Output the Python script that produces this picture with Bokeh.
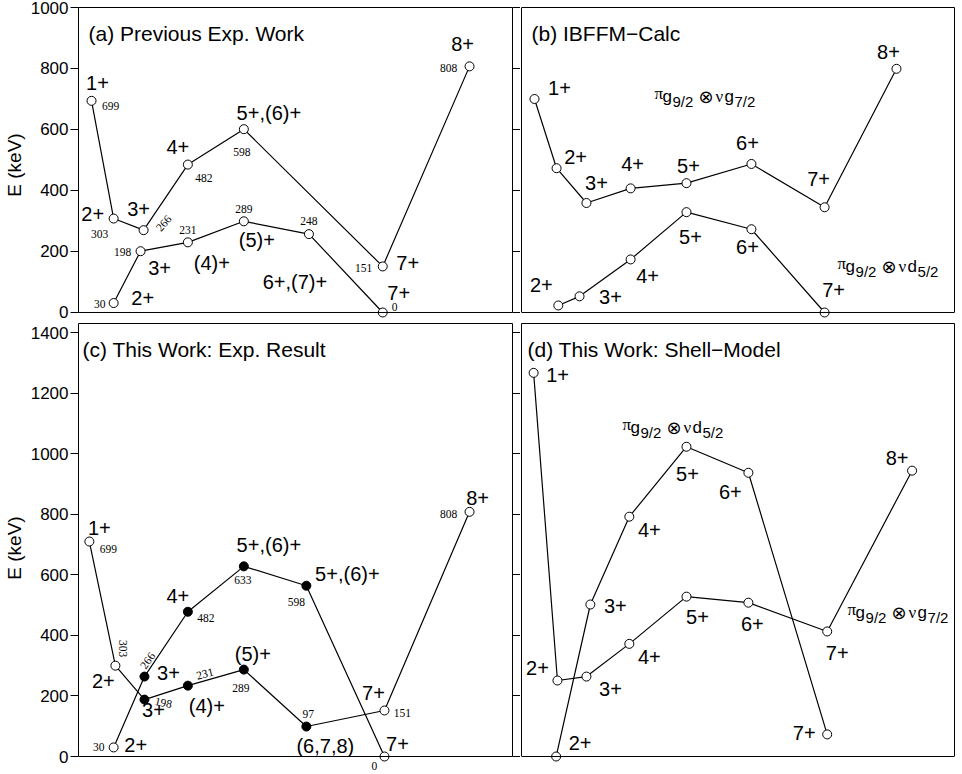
import math
from bokeh.plotting import figure
from bokeh.models import LinearAxis, Span, FixedTicker, Range1d, ColumnDataSource, Grid
from bokeh.layouts import column, row
from bokeh.embed import file_html
from bokeh.resources import INLINE
from bokeh.core.properties import value, field

# ---------------- data ----------------
# (a) Previous Exp. Work
a_up_x = [3.0, 8.1, 15.0, 25.2, 38.1, 70.1, 90.1]
a_up_E = [694, 308, 270, 485, 601, 151, 807]
a_up_spin = ["1+", "2+", "3+", "4+", "5+,(6)+", "7+", "8+"]
a_up_lab = ["699", "303", "266", "482", "598", "151", "808"]

a_lo_x = [8.1, 14.3, 25.2, 38.1, 53.1, 70.1]
a_lo_E = [31, 201, 230, 299, 257, 0]
a_lo_spin = ["2+", "3+", "(4)+", "(5)+", "6+,(7)+", "7+"]
a_lo_lab = ["30", "198", "231", "289", "248", "0"]

# (b) IBFFM-Calc
b_up_x = [3.0, 8.1, 15.0, 25.2, 38.1, 53.1, 70.0, 86.6]
b_up_E = [700, 473, 359, 407, 424, 487, 345, 799]
b_up_spin = ["1+", "2+", "3+", "4+", "5+", "6+", "7+", "8+"]

b_lo_x = [8.5, 13.4, 25.2, 38.1, 53.1, 70.0]
b_lo_E = [23, 53, 174, 329, 273, 0]
b_lo_spin = ["2+", "3+", "4+", "5+", "6+", "7+"]

# (c) This Work: Exp. Result
c_A_x = [2.5, 8.5, 15.2, 25.2, 38.1, 52.5, 70.5, 90.1]
c_A_E = [710, 300, 188, 234, 287, 99, 152, 808]
c_A_new = [False, False, True, True, True, True, False, False]
c_A_spin = ["1+", "2+", "3+", "(4)+", "(5)+", "(6,7,8)", "7+", "8+"]
c_A_lab = ["699", "303", "198", "231", "289", "97", "151", "808"]

c_B_x = [8.1, 15.2, 25.2, 38.1, 52.5, 70.5]
c_B_E = [30, 264, 478, 628, 564, 0]
c_B_new = [False, True, True, True, True, False]
c_B_spin = ["2+", "3+", "4+", "5+,(6)+", "5+,(6)+", "7+"]
c_B_lab = ["30", "266", "482", "633", "598", "0"]

# (d) This Work: Shell-Model
d_1_x = [2.8, 8.3, 15.0, 24.9, 38.1, 52.4, 70.6, 90.2]
d_1_E = [1267, 251, 264, 372, 528, 508, 413, 944]
d_1_spin = ["1+", "2+", "3+", "4+", "5+", "6+", "7+", "8+"]

d_2_x = [8.0, 15.9, 24.9, 38.1, 52.4, 70.6]
d_2_E = [0, 502, 792, 1023, 937, 73]
d_2_spin = ["2+", "3+", "4+", "5+", "6+", "7+"]

top_ticks = [0, 200, 400, 600, 800, 1000]
bot_ticks = [0, 200, 400, 600, 800, 1000, 1200, 1400]
titles = ["(a)  Previous Exp. Work", "(b)  IBFFM\u2212Calc",
          "(c) This Work: Exp. Result", "(d) This Work: Shell\u2212Model"]

# ---------------- label placement (screen px, y down) ----------------
a_up_spin_off = [(6, -18), (-21, -5), (-5, -21), (-10, -18), (25, -16), (25, -3), (-7, -22)]
a_up_lab_off = [(19, 5), (-14, 15), (20, -7), (16, 13), (-2, 23), (-19, 2), (-21, 2)]
a_up_lab_ang = [0, 0, 0.85, 0, 0, 0, 0]
a_lo_spin_off = [(29, -5), (19, 17), (24, 21), (13, 19), (-14, 48), (16, -19)]
a_lo_lab_off = [(-14, 1), (-18, 1), (0, -12), (0, -12), (0, -13), (12, -5)]

b_up_spin_off = [(25, -11), (19, -11), (10, -20), (2, -24), (2, -17), (-4, -21), (-6, -28), (-8, -17)]
b_lo_spin_off = [(-17, -20), (31, 1), (17, 17), (4, 25), (-4, 18), (9, -22)]

c_A_spin_off = [(10, -14), (-12, 15), (9, 10), (19, 20), (9, -16), (19, 19), (-11, -17), (8, -14)]
c_A_lab_off = [(19, 7), (8, -17), (19, 3), (17, -12), (-3, 18), (2, -13), (18, 3), (-21, 2)]
c_A_lab_ang = [0, -math.pi / 2, -0.2, 0.25, 0, 0, 0, 0]
c_B_spin_off = [(22, -2), (24, -4), (-10, -16), (25, -21), (41, -12), (13, -13)]
c_B_lab_off = [(-15, 0), (3, -16), (18, 6), (-1, 14), (-10, 16), (-10, 9)]
c_B_lab_ang = [0, 0.95, 0, 0, 0, 0]

d_1_spin_off = [(24, 2), (-20, -13), (24, 12), (20, 13), (11, 20), (4, 21), (10, 22), (-15, -13)]
d_2_spin_off = [(24, -14), (25, 1), (20, 13), (1, 27), (-18, 19), (-23, -1)]

SANS = "Liberation Sans"
SERIF = "Liberation Serif"
YS = 1  # sign for screen y offsets of text glyphs


def make_fig(width, height, ytop, ystart, ticks, is_left, mbt):
    p = figure(width=width, height=height, output_backend="svg", toolbar_location=None,
               x_range=Range1d(0, 100), y_range=Range1d(ystart, ytop),
               x_axis_location=None, y_axis_location=None,
               min_border_left=78 if is_left else 1, min_border_right=8 if is_left else 2,
               min_border_top=mbt, min_border_bottom=0)
    p.outline_line_color = None
    p.background_fill_color = "white"
    p.border_fill_color = "white"
    for g in p.select(type=Grid):
        g.visible = False
    p.renderers = [r for r in p.renderers if not isinstance(r, Grid)]
    p.center = [c for c in p.center if not isinstance(c, Grid)]

    def bare_axis(tk, tick_out):
        ax = LinearAxis(ticker=FixedTicker(ticks=tk), bounds=(0, ytop))
        ax.axis_line_color = "black"
        ax.axis_line_width = 1
        ax.major_tick_line_color = "black" if tk else None
        ax.major_tick_out = tick_out
        ax.major_tick_in = 0
        ax.minor_tick_line_color = None
        ax.major_label_standoff = 0
        ax.major_label_overrides = {t: "" for t in tk}
        ax.major_label_text_font_size = "0px"
        return ax

    if is_left:
        ax = LinearAxis(ticker=FixedTicker(ticks=ticks), bounds=(0, ytop), axis_label="E (keV)")
        ax.axis_line_color = "black"
        ax.major_tick_out = 8
        ax.major_tick_in = 0
        ax.minor_tick_line_color = None
        ax.major_label_standoff = 2
        ax.major_label_text_font = SANS
        ax.major_label_text_font_size = "17px"
        ax.major_label_text_color = "black"
        ax.axis_label_standoff = 3
        ax.axis_label_text_font = SANS
        ax.axis_label_text_font_size = "19px"
        ax.axis_label_text_font_style = "normal"
        ax.axis_label_text_color = "black"
        p.add_layout(ax, "left")
        p.add_layout(bare_axis(ticks, 8), "right")
    else:
        p.add_layout(bare_axis([], 0), "left")
        p.add_layout(bare_axis([], 0), "right")
    top_ax = LinearAxis(ticker=FixedTicker(ticks=[]))
    top_ax.axis_line_color = "black"
    top_ax.major_tick_line_color = None
    top_ax.minor_tick_line_color = None
    top_ax.major_label_standoff = 0
    top_ax.major_label_text_font_size = "0px"
    p.add_layout(top_ax, "above")
    p.add_layout(Span(location=0, dimension="width", line_color="black", line_width=1))
    return p


def add_title(p, text, ytop, dx):
    src = ColumnDataSource(dict(x=[0], y=[ytop], t=[text], dx=[dx], dy=[YS * 26]))
    p.text("x", "y", text="t", source=src, x_offset="dx", y_offset="dy",
           text_font=value(SANS), text_font_size=value("21px"), text_color="black",
           text_align="left", text_baseline="alphabetic")


def draw_series(p, xs, ys, spins, spin_off, labs=None, lab_off=None, lab_ang=None, filled=None):
    fills = ["black" if f else "white" for f in (filled or [False] * len(xs))]
    src = ColumnDataSource(dict(x=xs, y=ys, fill=fills))
    p.line("x", "y", source=src, line_color="black", line_width=1.2)
    p.scatter("x", "y", source=src, marker="circle", size=9, fill_color=field("fill"),
              line_color="black", line_width=1)
    s = ColumnDataSource(dict(x=xs, y=ys, t=spins, dx=[o[0] for o in spin_off],
                              dy=[YS * o[1] for o in spin_off]))
    p.text("x", "y", text="t", source=s, x_offset="dx", y_offset="dy",
           text_font=value(SANS), text_font_size=value("20px"), text_color="black",
           text_align="center", text_baseline="middle")
    if labs:
        ang = lab_ang or [0] * len(xs)
        s2 = ColumnDataSource(dict(x=xs, y=ys, t=labs, dx=[o[0] for o in lab_off],
                                   dy=[YS * o[1] for o in lab_off], a=ang))
        p.text("x", "y", text="t", source=s2, x_offset="dx", y_offset="dy", angle="a",
               text_font=value(SERIF), text_font_size=value("11.5px"), text_color="black",
               text_align="center", text_baseline="middle")


def config_label(p, x, y, orb, sub):
    pieces = [("\u03c0", SERIF, "17px", 0, -3),
              ("g", SANS, "17px", 8, 0),
              ("9/2", SANS, "15px", 18, 5),
              ("\u2297", "DejaVu Sans", "18px", 44, 0),
              ("\u03bd", SERIF, "17px", 61, 0),
              (orb, SANS, "17px", 70, 0),
              (sub, SANS, "15px", 80, 5)]
    src = ColumnDataSource(dict(x=[x] * len(pieces), y=[y] * len(pieces),
                                t=[q[0] for q in pieces], f=[q[1] for q in pieces],
                                fs=[q[2] for q in pieces], dx=[q[3] for q in pieces],
                                dy=[YS * q[4] for q in pieces]))
    p.text("x", "y", text="t", source=src, x_offset="dx", y_offset="dy",
           text_font=field("f"), text_font_size=field("fs"), text_color="black",
           text_align="left", text_baseline="alphabetic")


# top panels: frame y 7 (1000) .. 322 ; 0 lies at y 312
TOP_END, TOP_START = 1000, -32.8
# bottom panels: frame y 323 (1430) .. 772 ; 0 lies at y 756
BOT_END, BOT_START = 1430, -52.8

pa = make_fig(520, 322, TOP_END, TOP_START, top_ticks, True, 7)
pb = make_fig(436, 322, TOP_END, TOP_START, top_ticks, False, 7)
pc = make_fig(520, 450, BOT_END, BOT_START, bot_ticks, True, 1)
pd = make_fig(436, 450, BOT_END, BOT_START, bot_ticks, False, 1)

add_title(pa, titles[0], TOP_END, 10)
add_title(pb, titles[1], TOP_END, 10)
add_title(pc, titles[2], BOT_END, 4)
add_title(pd, titles[3], BOT_END, 6)

draw_series(pa, a_up_x, a_up_E, a_up_spin, a_up_spin_off, a_up_lab, a_up_lab_off, a_up_lab_ang)
draw_series(pa, a_lo_x, a_lo_E, a_lo_spin, a_lo_spin_off, a_lo_lab, a_lo_lab_off)

draw_series(pb, b_up_x, b_up_E, b_up_spin, b_up_spin_off)
draw_series(pb, b_lo_x, b_lo_E, b_lo_spin, b_lo_spin_off)
config_label(pb, 30.7, 707, "g", "7/2")
config_label(pb, 73.0, 151, "d", "5/2")

draw_series(pc, c_A_x, c_A_E, c_A_spin, c_A_spin_off, c_A_lab, c_A_lab_off, c_A_lab_ang, c_A_new)
draw_series(pc, c_B_x, c_B_E, c_B_spin, c_B_spin_off, c_B_lab, c_B_lab_off, c_B_lab_ang, c_B_new)

draw_series(pd, d_1_x, d_1_E, d_1_spin, d_1_spin_off)
draw_series(pd, d_2_x, d_2_E, d_2_spin, d_2_spin_off)
config_label(pd, 23.3, 1086, "d", "5/2")
config_label(pd, 75.3, 475, "g", "7/2")

layout = column(row(pa, pb, spacing=0), row(pc, pd, spacing=0), spacing=0)

with open("out.html", "w") as fh:
    fh.write(file_html(layout, INLINE))
